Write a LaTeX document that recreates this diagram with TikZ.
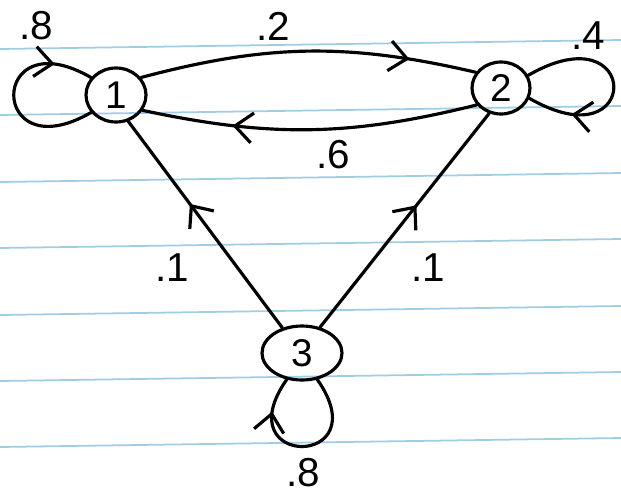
\documentclass[tikz,border=0pt]{standalone}
\usepackage{fontspec}
\setmainfont{Liberation Sans}
\usetikzlibrary{arrows.meta,decorations.markings,shapes.geometric}
\definecolor{paperblue}{RGB}{160,205,228}
\begin{document}
\begin{tikzpicture}[x=0.02cm,y=0.02cm,
  ink/.style={line width=1.8pt, line cap=round, line join=round},
  st/.style={draw, ink, ellipse, inner sep=0pt, font=\fontsize{22}{26}\selectfont},
  lab/.style={font=\fontsize{23}{27}\selectfont},
  barb/.style={decoration={markings, mark=at position #1 with {\arrow{Straight Barb[length=3.5mm,width=6mm]}}}, postaction=decorate},
  paperrule/.style={draw=paperblue, line width=1pt}]
\fill[white] (0,0) rectangle (621,498);
\useasboundingbox (0,0) rectangle (621,498);
\foreach \yl in {49,115,182,248,315,381,447}
  \draw[paperrule] (0,{498-\yl}) -- (621,{507-\yl});

\node[st, minimum width=1.2cm, minimum height=1.08cm] (n1) at (116,403) {1};
\node[st, minimum width=1.16cm, minimum height=1.04cm] (n2) at (501,410) {2};
\node[st, minimum width=1.6cm, minimum height=1.08cm] (n3) at (302,145) {3};

% self loops
\draw[ink, barb=0.8] (n1.215) .. controls +(210:119) and +(150:119) .. (n1.145);
\draw[ink, barb=0.78] (n2.25) .. controls +(30:131) and +(-30:131) .. (n2.-20);
\draw[ink, barb=0.8] (n3.-60) .. controls +(-55:109) and +(-125:109) .. (n3.-120);

% transitions
\draw[ink, barb=0.8] (n1.35) to[bend left=14] (n2.148);
\draw[ink, barb=0.73] (n2.215) to[bend left=13] (n1.330);
\draw[ink, barb=0.6] (n3.128) -- (n1.295);
\draw[ink, barb=0.57] (n3.55) -- (n2.245);

% labels
\node[lab] (l11) at (36,472) {.8};
\node[lab] (l12) at (273,472) {.2};
\node[lab] (l22) at (588,462) {.4};
\node[lab] (l21) at (333,343) {.6};
\node[lab] (l31) at (172,230) {.1};
\node[lab] (l32) at (428,230) {.1};
\node[lab] (l33) at (303,25) {.8};
\end{tikzpicture}
\end{document}
